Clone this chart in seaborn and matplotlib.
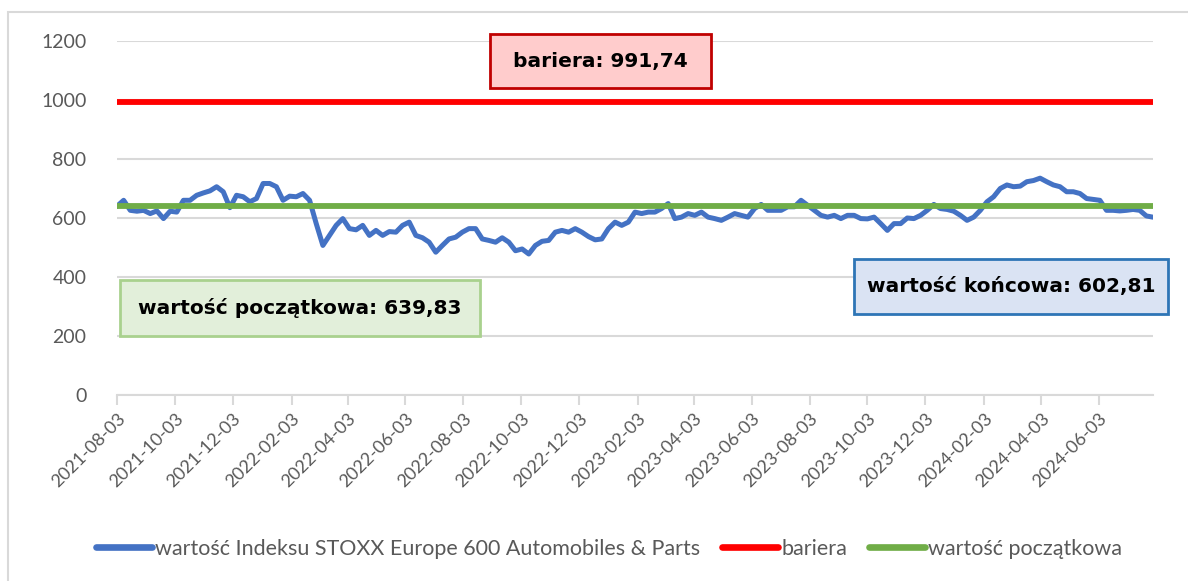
"""STOXX Europe 600 Automobiles & Parts vs barrier and initial level."""

import pandas as pd
import matplotlib.pyplot as plt
import matplotlib.dates as mdates
from matplotlib.patches import Rectangle
import seaborn as sns

# weekly readings of the index, 2021-08-03 .. 2024-07-30
start_date = '2021-08-03'
end_date = '2024-07-30'
index_values = [
    640, 660, 626, 623, 626, 615, 624, 598, 623, 620, 660, 660, 677, 685,
    692, 706, 689, 635, 677, 672, 655, 666, 717, 717, 706, 660, 674, 672,
    683, 660, 581, 507, 541, 575, 598, 564, 560, 575, 541, 558,
    541, 554, 552, 575, 586, 541, 533, 518, 484, 507, 529, 535, 552, 564,
    564, 529, 524, 518, 533, 518, 489, 495, 478, 507, 521, 524, 552, 558,
    552, 564, 552, 537, 526, 529, 564, 586, 575, 586, 620,
    615, 620, 620, 632, 649, 598, 603, 615, 609, 620, 603, 598, 592, 603,
    615, 609, 603, 632, 646, 626, 626, 626, 638, 638, 660, 643, 626, 609,
    603, 609, 598, 609, 609, 598, 597, 603, 581, 558, 581,
    581, 600, 598, 609, 626, 646, 632, 629, 623, 609, 592, 603, 626, 655,
    672, 700, 712, 706, 708, 723, 727, 735, 723, 712, 706, 689, 689, 683,
    666, 663, 660, 626, 626, 624, 626, 629, 626, 607, 602.81,
]
barrier = 991.74
initial = 639.83
final = 602.81

tick_labels = [
    '2021-08-03', '2021-10-03', '2021-12-03', '2022-02-03', '2022-04-03',
    '2022-06-03', '2022-08-03', '2022-10-03', '2022-12-03', '2023-02-03',
    '2023-04-03', '2023-06-03', '2023-08-03', '2023-10-03', '2023-12-03',
    '2024-02-03', '2024-04-03', '2024-06-03',
]

df = pd.DataFrame({
    'date': pd.date_range(start_date, end_date, periods=len(index_values)),
    'value': index_values,
})

sns.set_style('white')
plt.rcParams['font.family'] = ['Lato', 'DejaVu Sans']

W, H = 1188, 581
fig = plt.figure(figsize=(W / 100, H / 100), dpi=100)
ax = fig.add_axes([117 / W, 1 - 395 / H, (1153 - 117) / W, (395 - 41) / H])

GRID = '#D9D9D9'
TXT = '#595959'

sns.lineplot(data=df, x='date', y='value', ax=ax, color='#4472C4', lw=3.6,
             label='wartość Indeksu STOXX Europe 600 Automobiles & Parts',
             zorder=3)
ax.axhline(barrier, color='#FF0000', lw=4.2, label='bariera', zorder=4,
           solid_capstyle='round')
ax.axhline(initial, color='#70AD47', lw=4.2, label='wartość początkowa',
           zorder=4)

ax.set_ylim(0, 1200)
ax.set_yticks(range(0, 1201, 200))
ax.set_xlim(df['date'].iloc[0], df['date'].iloc[-1])
ax.set_xticks(pd.to_datetime(tick_labels))
ax.set_xticklabels(tick_labels, rotation=45, ha='right',
                   rotation_mode='anchor')
ax.xaxis.set_major_formatter(mdates.DateFormatter('%Y-%m-%d'))
ax.tick_params(axis='x', colors=GRID, labelcolor=TXT, labelsize=13,
               length=7, width=1.5, direction='out', pad=4, bottom=True)
ax.tick_params(axis='y', labelcolor=TXT, labelsize=14, length=0, pad=22)
ax.set_xlabel('')
ax.set_ylabel('')
ax.grid(axis='y', color=GRID, lw=1.5)
ax.set_axisbelow(True)
for s in ['top', 'right', 'left']:
    ax.spines[s].set_visible(False)
ax.spines['bottom'].set_color(GRID)
ax.spines['bottom'].set_linewidth(1.5)

leg = ax.legend(loc='center', bbox_to_anchor=(609 / W, 1 - 549 / H),
                bbox_transform=fig.transFigure, ncol=3, frameon=False,
                fontsize=15.5, handlelength=2.6, handletextpad=0.15,
                columnspacing=1.0)
for t in leg.get_texts():
    t.set_color(TXT)
for line in leg.get_lines():
    line.set_linewidth(4.8)
    line.set_solid_capstyle('round')


def label_box(x0, y0, x1, y1, text, face, edge):
    # pixel box (top-left origin) -> figure fractions
    fig.patches.append(Rectangle((x0 / W, 1 - y1 / H), (x1 - x0) / W,
                                 (y1 - y0) / H, transform=fig.transFigure,
                                 facecolor=face, edgecolor=edge, lw=2,
                                 zorder=5))
    fig.text((x0 + x1) / 2 / W, 1 - (y0 + y1) / 2 / H, text, ha='center',
             va='center', fontsize=14.5, fontweight='bold', color='black',
             family=['DejaVu Sans'], zorder=6)


label_box(490, 34, 711, 88, 'bariera: 991,74', '#FFCCCC', '#C00000')
label_box(120, 280, 480, 336, 'wartość początkowa: 639,83', '#E2EFDA',
          '#A9D18E')
label_box(854, 259, 1168, 314, 'wartość końcowa: 602,81', '#DAE3F3',
          '#2E75B6')

# outer chart border (right and bottom edges fall outside the picture)
fig.patches.append(Rectangle((8 / W, -0.05), 1.2, 1 - 12 / H + 0.05,
                             transform=fig.transFigure, fill=False,
                             edgecolor=GRID, lw=1.5))

fig.savefig('out.png', dpi=100)
